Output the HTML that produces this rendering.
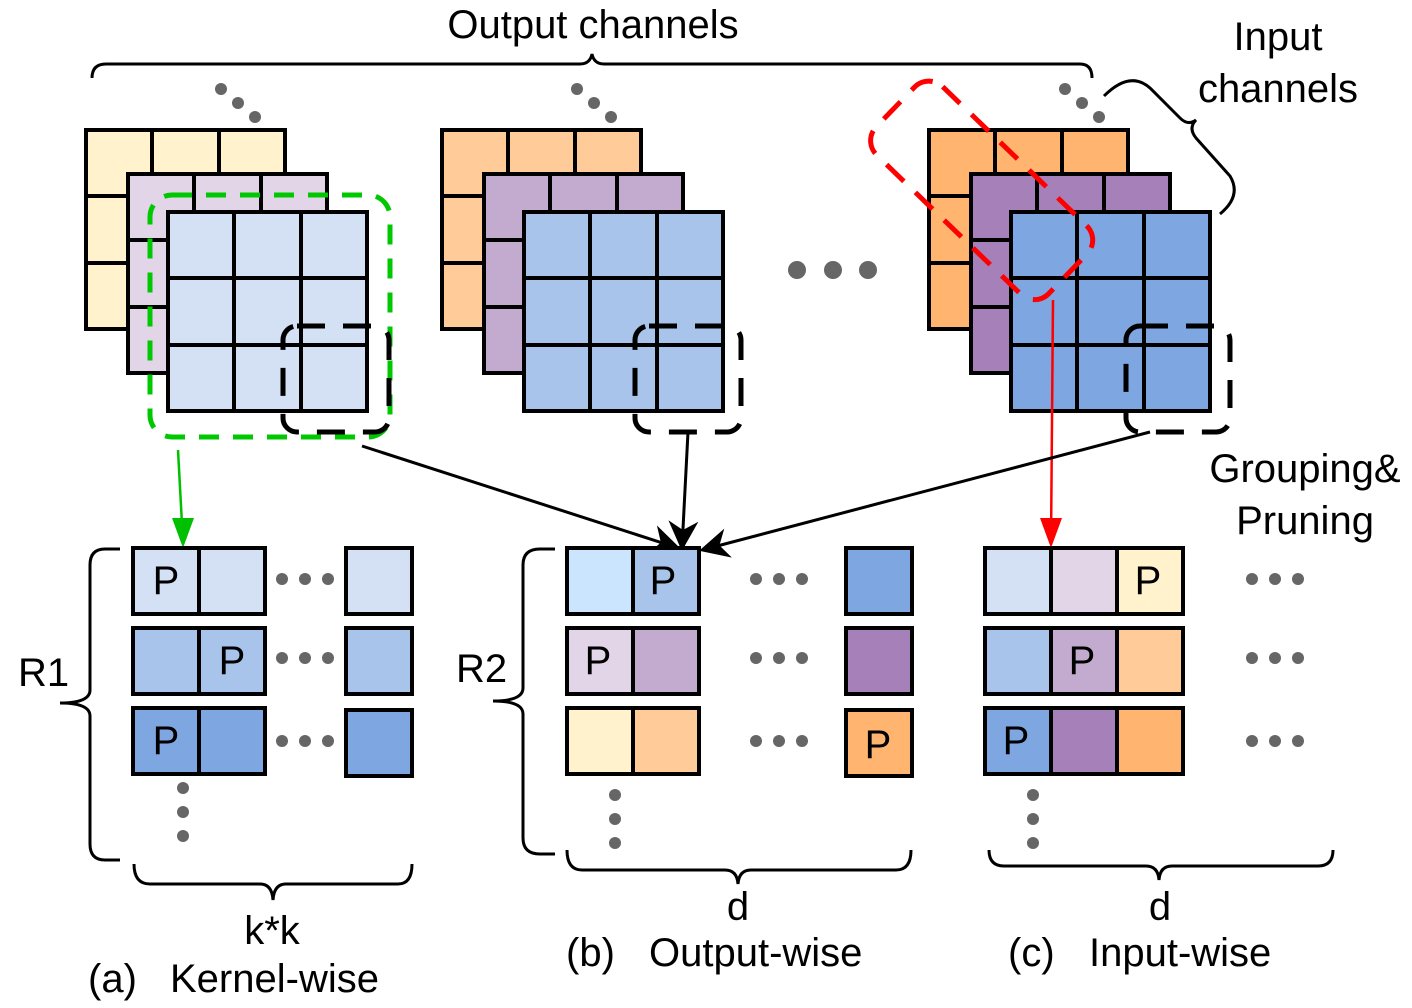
<!DOCTYPE html>
<html><head><style>html,body{margin:0;padding:0;background:#fff}svg{display:block}</style></head>
<body>
<svg width="1412" height="1008" viewBox="0 0 1412 1008" xmlns="http://www.w3.org/2000/svg" font-family="Liberation Sans, sans-serif">
<defs>
<marker id="ab" viewBox="0 0 10 10" refX="9" refY="5" markerWidth="30" markerHeight="30" orient="auto" markerUnits="userSpaceOnUse"><path d="M0,0 L10,5 L0,10 L3,5z" fill="#000"/></marker>
<g id="grid"><rect x="0" y="0" width="199" height="199" stroke="#000" stroke-width="4"/><path d="M66,0V199M133,0V199M0,66H199M0,133H199" stroke="#000" stroke-width="4" fill="none"/></g>
</defs>
<path d="M92,78 Q92,64 106,64 L580,64 Q590,64 592,54 Q594,64 604,64 L1080,64 Q1092,64 1092,78" fill="none" stroke="#000" stroke-width="3"/>
<text x="593" y="38" font-size="40" text-anchor="middle">Output channels</text>
<text x="1278" y="50" font-size="40" text-anchor="middle">Input</text>
<text x="1278" y="102" font-size="40" text-anchor="middle">channels</text>
<path d="M1104,96 Q1130,70 1150,88 L1180,118 Q1188,126 1196,120 Q1188,128 1196,138 L1230,176 Q1242,196 1220,214" fill="none" stroke="#000" stroke-width="3"/>
<g fill="#666"><circle cx="221" cy="89" r="6"/><circle cx="238" cy="103" r="6"/><circle cx="255" cy="117" r="6"/>
<circle cx="577" cy="89" r="6"/><circle cx="594" cy="103" r="6"/><circle cx="611" cy="117" r="6"/>
<circle cx="1065" cy="89" r="6"/><circle cx="1082" cy="103" r="6"/><circle cx="1099" cy="117" r="6"/>
<circle cx="797" cy="270" r="9"/><circle cx="833" cy="270" r="9"/><circle cx="868" cy="270" r="9"/></g>
<use href="#grid" x="86" y="130" fill="#fff2cc"/><use href="#grid" x="128" y="174" fill="#e1d5e7"/><use href="#grid" x="168" y="212" fill="#d4e1f5"/>
<use href="#grid" x="442" y="130" fill="#ffcc99"/><use href="#grid" x="484" y="174" fill="#c3abd0"/><use href="#grid" x="524" y="212" fill="#a9c4eb"/>
<use href="#grid" x="929" y="130" fill="#ffb570"/><use href="#grid" x="971" y="174" fill="#a680b8"/><use href="#grid" x="1011" y="212" fill="#7ea6e0"/>
<rect x="150" y="195" width="240" height="242" rx="22" fill="none" stroke="#00c800" stroke-width="5" stroke-dasharray="20,14"/>
<g fill="none" stroke="#000" stroke-width="5" stroke-dasharray="28,18">
<rect x="283" y="326" width="106" height="106" rx="14"/>
<rect x="635" y="326" width="106" height="106" rx="14"/>
<rect x="1126" y="326" width="104" height="106" rx="14"/></g>
<rect x="-120" y="-47" width="240" height="95" rx="20" transform="translate(982,190) rotate(44)" fill="none" stroke="#f00" stroke-width="5" stroke-dasharray="24,16"/>
<line x1="178" y1="450" x2="183" y2="543" stroke="#00c000" stroke-width="2.5"/><path d="M172,518 L183,548 L194,518z" fill="#00c000"/>
<line x1="1053" y1="300" x2="1051" y2="543" stroke="#f00" stroke-width="2.5"/><path d="M1040,518 L1051,548 L1062,518z" fill="#f00"/>
<g stroke="#000" stroke-width="3" marker-end="url(#ab)">
<line x1="362" y1="446" x2="678" y2="548"/>
<line x1="688" y1="432" x2="682" y2="548"/>
<line x1="1150" y1="432" x2="702" y2="550"/></g>
<text x="1305" y="482" font-size="40" text-anchor="middle">Grouping&amp;</text>
<text x="1305" y="534" font-size="40" text-anchor="middle">Pruning</text>
<g stroke="#000" stroke-width="4">
<rect x="133" y="548" width="66" height="66" fill="#d4e1f5"/><rect x="199" y="548" width="66" height="66" fill="#d4e1f5"/><rect x="346" y="548" width="66" height="66" fill="#d4e1f5"/>
<rect x="133" y="628" width="66" height="66" fill="#a9c4eb"/><rect x="199" y="628" width="66" height="66" fill="#a9c4eb"/><rect x="346" y="628" width="66" height="66" fill="#a9c4eb"/>
<rect x="133" y="708" width="66" height="66" fill="#7ea6e0"/><rect x="199" y="708" width="66" height="66" fill="#7ea6e0"/><rect x="346" y="710" width="66" height="66" fill="#7ea6e0"/>
<rect x="567" y="548" width="66" height="66" fill="#cce5ff"/><rect x="633" y="548" width="66" height="66" fill="#a9c4eb"/><rect x="846" y="548" width="66" height="66" fill="#7ea6e0"/>
<rect x="567" y="628" width="66" height="66" fill="#e1d5e7"/><rect x="633" y="628" width="66" height="66" fill="#c3abd0"/><rect x="846" y="628" width="66" height="66" fill="#a680b8"/>
<rect x="567" y="708" width="66" height="66" fill="#fff2cc"/><rect x="633" y="708" width="66" height="66" fill="#ffcc99"/><rect x="846" y="710" width="66" height="66" fill="#ffb570"/>
<rect x="985" y="548" width="66" height="66" fill="#d4e1f5"/><rect x="1051" y="548" width="66" height="66" fill="#e1d5e7"/><rect x="1117" y="548" width="66" height="66" fill="#fff2cc"/>
<rect x="985" y="628" width="66" height="66" fill="#a9c4eb"/><rect x="1051" y="628" width="66" height="66" fill="#c3abd0"/><rect x="1117" y="628" width="66" height="66" fill="#ffcc99"/>
<rect x="985" y="708" width="66" height="66" fill="#7ea6e0"/><rect x="1051" y="708" width="66" height="66" fill="#a680b8"/><rect x="1117" y="708" width="66" height="66" fill="#ffb570"/>
</g>
<g font-size="40" text-anchor="middle">
<text x="166" y="594">P</text><text x="232" y="674">P</text><text x="166" y="754">P</text>
<text x="663" y="594">P</text><text x="598" y="674">P</text><text x="878" y="758">P</text>
<text x="1148" y="594">P</text><text x="1082" y="674">P</text><text x="1016" y="754">P</text>
</g>
<g fill="#666">
<circle cx="282" cy="579" r="6"/><circle cx="305" cy="579" r="6"/><circle cx="328" cy="579" r="6"/>
<circle cx="282" cy="658" r="6"/><circle cx="305" cy="658" r="6"/><circle cx="328" cy="658" r="6"/>
<circle cx="282" cy="741" r="6"/><circle cx="305" cy="741" r="6"/><circle cx="328" cy="741" r="6"/>
<circle cx="183" cy="788" r="6"/><circle cx="183" cy="812" r="6"/><circle cx="183" cy="836" r="6"/>
<circle cx="756" cy="579" r="6"/><circle cx="779" cy="579" r="6"/><circle cx="802" cy="579" r="6"/>
<circle cx="756" cy="658" r="6"/><circle cx="779" cy="658" r="6"/><circle cx="802" cy="658" r="6"/>
<circle cx="756" cy="741" r="6"/><circle cx="779" cy="741" r="6"/><circle cx="802" cy="741" r="6"/>
<circle cx="615" cy="795" r="6"/><circle cx="615" cy="819" r="6"/><circle cx="615" cy="843" r="6"/>
<circle cx="1252" cy="579" r="6"/><circle cx="1275" cy="579" r="6"/><circle cx="1298" cy="579" r="6"/>
<circle cx="1252" cy="658" r="6"/><circle cx="1275" cy="658" r="6"/><circle cx="1298" cy="658" r="6"/>
<circle cx="1252" cy="741" r="6"/><circle cx="1275" cy="741" r="6"/><circle cx="1298" cy="741" r="6"/>
<circle cx="1033" cy="795" r="6"/><circle cx="1033" cy="819" r="6"/><circle cx="1033" cy="843" r="6"/>
</g>
<g fill="none" stroke="#000" stroke-width="3">
<path d="M120,549 L105,549 Q90,549 90,565 L90,690 Q90,703 60,703 Q90,703 90,716 L90,844 Q90,860 105,860 L120,860"/>
<path d="M555,549 L540,549 Q523,549 523,565 L523,688 Q523,701 493,701 Q523,701 523,714 L523,838 Q523,854 540,854 L555,854"/>
<path d="M134,864 Q134,884 150,884 L260,884 Q272,884 273,900 Q274,884 286,884 L398,884 Q412,884 412,864"/>
<path d="M567,850 Q567,870 582,870 L725,870 Q737,870 738,884 Q739,870 751,870 L896,870 Q911,870 911,850"/>
<path d="M989,850 Q989,866 1004,866 L1146,866 Q1158,866 1159,880 Q1160,866 1172,866 L1318,866 Q1333,866 1333,850"/>
</g>
<g font-size="40">
<text x="18" y="686">R1</text><text x="456" y="682">R2</text>
<text x="272" y="944" text-anchor="middle">k*k</text>
<text x="738" y="920" text-anchor="middle">d</text>
<text x="1160" y="920" text-anchor="middle">d</text>
<text x="88" y="992">(a)</text><text x="170" y="992">Kernel-wise</text>
<text x="566" y="966">(b)</text><text x="649" y="966">Output-wise</text>
<text x="1008" y="966">(c)</text><text x="1089" y="966">Input-wise</text>
</g>
</svg>
</body></html>
